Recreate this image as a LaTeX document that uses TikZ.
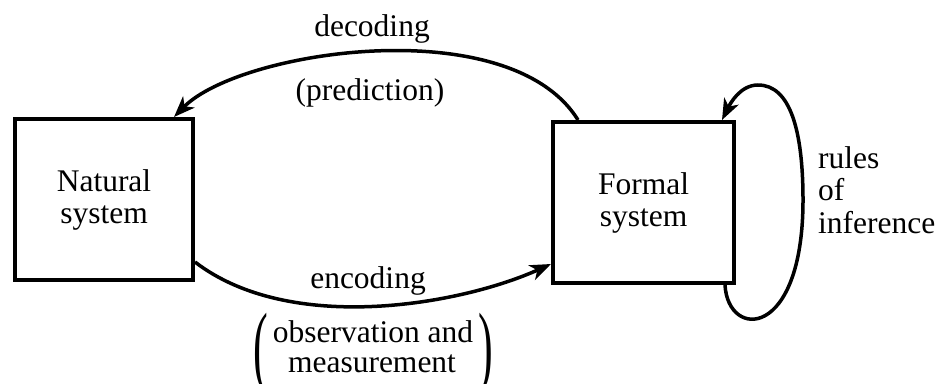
\documentclass[tikz,border=0pt]{standalone}
\usepackage{fontspec}
\usepackage{graphicx}
\setmainfont{Liberation Serif}
\usetikzlibrary{arrows.meta,calc}

\begin{document}
\begin{tikzpicture}[x=1pt,y=-1pt,
  sysbox/.style={draw, line width=4pt, rectangle, inner sep=0pt,
    align=center, font=\fontsize{31.5}{32}\selectfont},
  lbl/.style={inner sep=0pt, font=\fontsize{31.5}{31}\selectfont},
  tallparen/.style={inner sep=0pt, anchor=north,
    font=\fontsize{31.5}{31}\selectfont},
  link/.style={line width=3.5pt,
    -{Stealth[length=21pt,width=16pt,inset=6pt]}}
]
\useasboundingbox (0,0) rectangle (939,383);

% the two systems
\node[sysbox, minimum width=178pt, minimum height=161pt] (nat) at (104,199.5)
  {Natural\\system};
\node[sysbox, minimum width=181pt, minimum height=161pt] (form) at (643.5,202.5)
  {Formal\\system};

% decoding: formal -> natural, over the top
\draw[link] ($(form.north west)+(27,0)$)
  .. controls (510,10) and (240,50) .. ($(nat.north east)+(-21,0)$);
\node[lbl, anchor=base] (dec) at (372,36) {decoding};
\node[lbl, anchor=base] (pred) at (370,100) {(prediction)};

% encoding: natural -> formal, underneath
\draw[link] ($(nat.south east)+(0,-20)$)
  .. controls (290,335) and (460,305) .. ($(form.south west)+(0,-21)$);
\node[lbl, anchor=base] (enc) at (368,288) {encoding};
\node[lbl, anchor=base] (obs) at (373,342) {observation and};
\node[lbl, anchor=base] (meas) at (372,372) {measurement};
\node[tallparen] (lpar) at (261,313) {\scalebox{1.4}[2.9]{(}};
\node[tallparen] (rpar) at (486,313) {\scalebox{1.4}[2.9]{)}};

% rules of inference: loop on the formal system
\coordinate (loopR) at (803,200);
\coordinate (loopT) at (758,85);
\draw[link] ($(form.south east)+(-11,0)$)
  .. controls (728,340) and (803,340) .. (loopR)
  .. controls (803,130) and (790,85) .. (loopT)
  .. controls (740,85) and (730,104) .. ($(form.north east)+(-14,0)$);
\node[lbl, anchor=base west] (r1) at (818,168) {rules};
\node[lbl, anchor=base west] (r2) at (818,200) {of};
\node[lbl, anchor=base west] (r3) at (818,233) {inference};
\end{tikzpicture}
\end{document}
